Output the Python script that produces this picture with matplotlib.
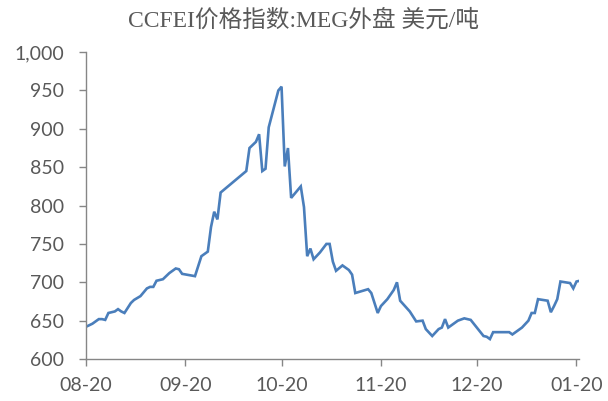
import matplotlib
matplotlib.use("Agg")
import matplotlib.pyplot as plt
import matplotlib.dates as mdates
import matplotlib.ticker as mticker
import numpy as np
import pandas as pd

start_date = "2020-08-20"
day_offsets = [0, 2, 3, 4, 5, 6, 7, 9, 10, 11, 12, 14, 15, 17, 19, 20, 21, 22, 24, 26,
               28, 29, 30, 34, 36, 38, 39, 40, 41, 42, 50, 51, 53, 54, 55, 56, 57, 60, 61, 62,
               63, 64, 67, 68, 69, 70, 71, 73, 75, 76, 77, 78, 80, 82, 83, 84, 88, 89, 91, 92,
               94, 96, 97, 98, 101, 103, 105, 106, 108, 110, 111, 112, 113, 116, 118, 120, 124, 125, 126, 127,
               132, 133, 136, 138, 139, 140, 141, 144, 145, 146, 147, 148, 151, 152, 153, 154]
prices = [642, 646, 649, 652, 652, 651, 660, 662, 665, 662, 660, 673, 677, 682, 692, 694, 694, 702, 704, 712,
          718, 717, 711, 708, 734, 740, 772, 792, 782, 817, 845, 875, 883, 893, 845, 848, 902, 950, 955, 851,
          875, 810, 825, 798, 734, 744, 730, 739, 750, 750, 727, 715, 722, 716, 710, 686, 691, 686, 660, 669,
          678, 690, 700, 676, 662, 649, 650, 639, 630, 639, 641, 652, 641, 650, 653, 651, 630, 629, 626, 635,
          635, 632, 641, 650, 660, 660, 678, 676, 661, 669, 678, 701, 699, 692, 701, 702]
tick_dates = ["2020-08-20", "2020-09-20", "2020-10-20", "2020-11-20", "2020-12-20", "2021-01-20"]
y_ticks = [600, 650, 700, 750, 800, 850, 900, 950, 1000]
title = "CCFEI价格指数:MEG外盘 美元/吨"

dates = pd.Timestamp(start_date) + pd.to_timedelta(day_offsets, unit="D")

fig = plt.figure(figsize=(6.08, 4.01), dpi=100)
ax = fig.add_axes([0.1414, 0.1047, 0.811, 0.7653])
ax.plot(dates, prices, color="#4a7ebb", linewidth=1.9, solid_joinstyle="miter")

ax.set_ylim(600, 1000)
ax.set_yticks(y_ticks)
ax.yaxis.set_major_formatter(mticker.FuncFormatter(lambda v, p: f"{int(v):,}"))
ax.set_xlim(pd.Timestamp("2020-08-20"), pd.Timestamp("2021-01-20") + pd.Timedelta(days=0.8))
ax.set_xticks(pd.to_datetime(tick_dates))
ax.xaxis.set_major_formatter(mdates.DateFormatter("%m-%d"))

for s in ["top", "right"]:
    ax.spines[s].set_visible(False)
for s in ["left", "bottom"]:
    ax.spines[s].set_color("#868686")
    ax.spines[s].set_linewidth(1.0)
ax.tick_params(axis="both", direction="out", length=5, width=1.0, color="#868686",
               labelcolor="#595959", labelsize=14)
ax.tick_params(axis="y", pad=11)
ax.tick_params(axis="x", pad=8)
for lab in ax.get_xticklabels() + ax.get_yticklabels():
    lab.set_family(["Lato", "DejaVu Sans"])

fig.text(0.5, 0.950, title, ha="center", va="center", fontsize=17, color="#595959",
         family=["Liberation Serif", "Noto Sans CJK SC"])

fig.savefig("out.png", dpi=100)
